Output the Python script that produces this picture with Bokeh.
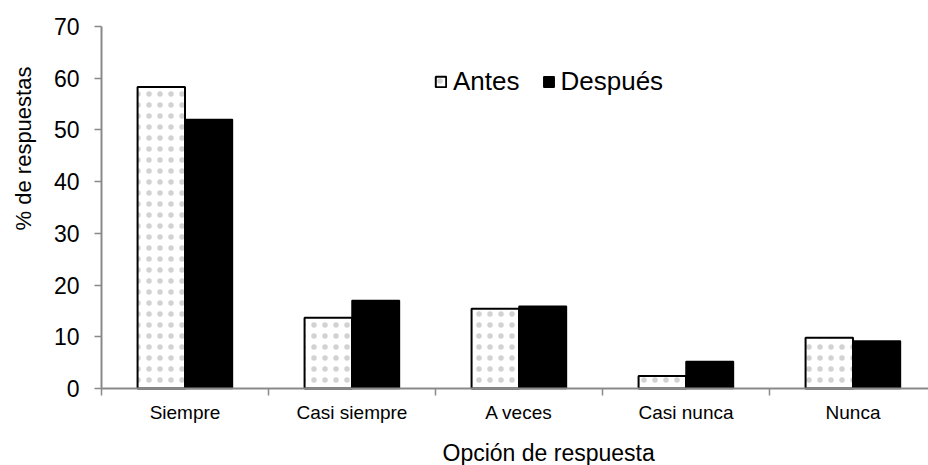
import numpy as np
from bokeh.plotting import figure
from bokeh.models import (ColumnDataSource, Range1d, FixedTicker, Legend, LegendItem, Label)
from bokeh.embed import file_html
from bokeh.resources import INLINE

# ---- data ----
categories = ["Siempre", "Casi siempre", "A veces", "Casi nunca", "Nunca"]
antes = [58.3, 13.7, 15.4, 2.4, 9.8]
despues = [52.0, 17.0, 15.9, 5.2, 9.2]
y_ticks = [0, 10, 20, 30, 40, 50, 60, 70]
y_max = 70
series_names = ["Antes", "Después"]
x_title = "Opción de respuesta"
y_title = "% de respuestas"

FONT = "Liberation Sans"
AXIS_GRAY = "#898989"

# layout (pixels)
W, H = 928, 465
PX_LEFT, PX_TOP, PX_BOTTOM = 101, 26, 388
CAT_PX = 167
YS = (PX_BOTTOM - PX_TOP) / y_max          # pixels per unit


def dx(px):   # pixel column -> data x
    return (px - PX_LEFT) / CAT_PX


def dy(py):   # pixel row -> data y
    return (PX_BOTTOM - py) / YS


idx = np.arange(len(categories))
centers = idx + 0.5
bar_w = 0.284

src = ColumnDataSource(dict(
    xa=centers - bar_w / 2, xd=centers + bar_w / 2,
    antes=antes, despues=despues, cat=categories))

p = figure(width=W, height=H, output_backend="svg", toolbar_location=None,
           x_range=Range1d(dx(0), dx(W)), y_range=Range1d(dy(H), dy(0)),
           min_border_left=0, min_border_right=0, min_border_top=0, min_border_bottom=0)
p.outline_line_color = None
p.xgrid.grid_line_color = None
p.ygrid.grid_line_color = None

r_a = p.vbar(x="xa", top="antes", width=bar_w, source=src, fill_color="white",
             line_color="black", line_width=2, hatch_pattern="dot", hatch_color="#d2d2d2",
             hatch_scale=11, hatch_weight=1)
r_d = p.vbar(x="xd", top="despues", width=bar_w, source=src, fill_color="black",
             line_color="black", line_width=1.5)

# x axis: labels at centres, tick marks at category boundaries
xa = p.xaxis[0]
xa.fixed_location = 0
xa.bounds = (0, dx(W))
xa.ticker = FixedTicker(ticks=list(centers), minor_ticks=list(np.arange(len(categories) + 1)))
xa.major_label_overrides = {float(c): lab for c, lab in zip(centers, categories)}
xa.major_tick_line_color = None
xa.major_tick_out = 7
xa.major_tick_in = 0
xa.minor_tick_out = 7
xa.minor_tick_in = 0
xa.minor_tick_line_color = AXIS_GRAY
xa.minor_tick_line_width = 1.5
xa.axis_line_color = AXIS_GRAY
xa.axis_line_width = 2
xa.major_label_text_font = FONT
xa.major_label_text_font_size = "19px"
xa.major_label_text_color = "black"
xa.major_label_standoff = 6

ya = p.yaxis[0]
ya.fixed_location = 0
ya.bounds = (0, y_max)
ya.ticker = FixedTicker(ticks=y_ticks)
ya.major_tick_out = 7
ya.major_tick_in = 0
ya.minor_tick_line_color = None
ya.major_tick_line_color = AXIS_GRAY
ya.major_tick_line_width = 1.5
ya.axis_line_color = AXIS_GRAY
ya.axis_line_width = 2
ya.major_label_text_font = FONT
ya.major_label_text_font_size = "23px"
ya.major_label_text_color = "black"
ya.major_label_standoff = 15

p.add_layout(Label(x=dx(23), y=dy(148), text=y_title, angle=np.pi / 2,
                   text_align="center", text_baseline="middle",
                   text_font=FONT, text_font_size="22px", text_color="black"))
p.add_layout(Label(x=dx(442), y=dy(452), text=x_title,
                   text_align="left", text_baseline="alphabetic",
                   text_font=FONT, text_font_size="23px", text_color="black"))

legend = Legend(items=[LegendItem(label=series_names[0], renderers=[r_a]),
                       LegendItem(label=series_names[1], renderers=[r_d])],
                location=(434, H - 97), orientation="horizontal",
                label_text_font=FONT, label_text_font_size="26px", label_text_color="black",
                glyph_width=13, glyph_height=13, label_standoff=6, spacing=22,
                padding=0, margin=0, border_line_color=None, background_fill_alpha=0)
p.add_layout(legend)

open("out.html", "w").write(file_html(p, INLINE))
